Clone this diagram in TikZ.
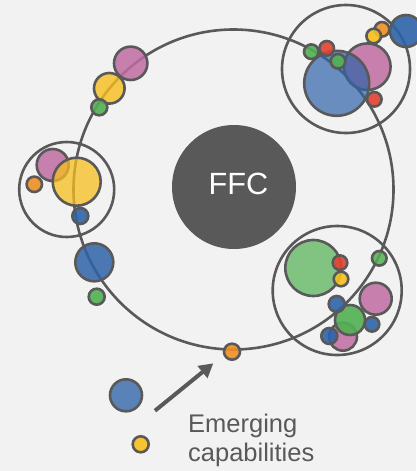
\documentclass[tikz,border=0pt]{standalone}
\usepackage{fontspec}
\setmainfont{Liberation Sans}
\usetikzlibrary{arrows.meta}
\definecolor{bg}{HTML}{F2F2F2}
\definecolor{ink}{HTML}{595959}
\definecolor{cblue}{HTML}{2E63A8}
\definecolor{cpink}{HTML}{C06BA2}
\definecolor{cyellow}{HTML}{F7BE1E}
\definecolor{cgreen}{HTML}{52B152}
\definecolor{cred}{HTML}{E2412F}
\definecolor{corange}{HTML}{EF8F24}
\tikzset{
  ring/.style={draw=ink,line width=2.6pt},
  bub/.style 2 args={draw=ink,line width=2.6pt,fill=#1,fill opacity=#2},
}
\newcommand{\bubble}[5]{\path[bub={#4}{#5}] (#1,#2) circle (#3pt);}
\begin{document}
\begin{tikzpicture}[x=1pt,y=-1pt]
\fill[bg] (0,0) rectangle (416,471);
\useasboundingbox (0,0) rectangle (416,471);

% main orbit and core
\draw[ring] (233.5,189.5) circle (160pt);
\fill[ink] (234,187) circle (62pt);
\node[text=white,font=\fontsize{30.7}{36}\selectfont,inner sep=0] (ffc) at (238.5,184) {FFC};

% top-right cluster
\draw[ring] (346,69) circle (64pt);
\bubble{367.3}{66.7}{23.3}{cpink}{0.85}
\bubble{336.7}{83.3}{32.5}{cblue}{0.7}
\bubble{311.3}{51.7}{7.3}{cgreen}{0.9}
\bubble{326.7}{48.3}{7.3}{cred}{0.9}
\bubble{338}{61.3}{7.3}{cgreen}{0.9}
\bubble{374.3}{99.3}{7.3}{cred}{0.9}
\bubble{382}{29.3}{7.3}{corange}{0.9}
\bubble{373.7}{36}{7.3}{cyellow}{0.9}
\bubble{406}{31}{16}{cblue}{0.9}

% bottom-right cluster
\draw[ring] (337.2,290.5) circle (64.5pt);
\bubble{313.3}{268}{28}{cgreen}{0.7}
\bubble{340}{262.7}{7.3}{cred}{0.9}
\bubble{341}{279}{7.3}{cyellow}{0.9}
\bubble{379.3}{258.3}{7.3}{cgreen}{0.85}
\bubble{375.7}{298.7}{16}{cpink}{0.85}
\bubble{343}{336.7}{14}{cpink}{0.85}
\bubble{350}{320}{15}{cgreen}{0.9}
\bubble{336.7}{304}{8}{cblue}{0.9}
\bubble{372}{324.3}{7.3}{cblue}{0.9}
\bubble{329.3}{336}{8}{cblue}{0.9}

% left cluster
\draw[ring] (66.7,189.5) circle (47.5pt);
\bubble{52.7}{165}{16}{cpink}{0.85}
\bubble{34.3}{184.3}{7.7}{corange}{0.9}
\bubble{76.7}{181.7}{24}{cyellow}{0.75}
\bubble{80.3}{216}{8}{cblue}{0.9}

% upper-left chain
\bubble{130.7}{63.3}{16.7}{cpink}{0.85}
\bubble{109.3}{88.3}{15.3}{cyellow}{0.8}
\bubble{99.3}{107.3}{8}{cgreen}{0.9}

% left pair
\bubble{94.3}{262.3}{19}{cblue}{0.85}
\bubble{96.7}{296.7}{8}{cgreen}{0.9}

% bottom dot
\bubble{232}{351.7}{8}{corange}{0.9}

% legend
\bubble{126}{395.3}{16}{cblue}{0.78}
\bubble{140.7}{444.3}{8}{cyellow}{0.9}
\coordinate (astart) at (155,410.7);
\coordinate (aend) at (213.3,363.3);
\draw[draw=ink,line width=4pt,-{Triangle[length=14pt,width=15pt]}] (astart) -- (aend);
\node[anchor=base west,text=ink,font=\fontsize{25.5}{29}\selectfont,inner sep=0] (l1) at (188,432.7) {Emerging};
\node[anchor=base west,text=ink,font=\fontsize{25.5}{29}\selectfont,inner sep=0] (l2) at (188,461.7) {capabilities};
\end{tikzpicture}
\end{document}
